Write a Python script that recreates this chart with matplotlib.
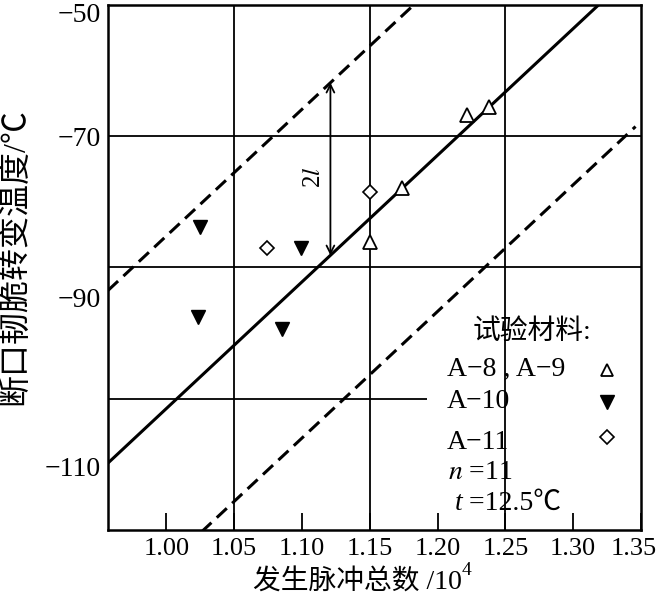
import numpy as np
import matplotlib.pyplot as plt
from matplotlib.transforms import ScaledTranslation

plt.rcParams['font.family'] = ['Liberation Serif', 'Noto Sans CJK SC']
plt.rcParams['mathtext.fontset'] = 'stix'

a89_x = [1.150, 1.174, 1.2215, 1.238]
a89_y = [-86.1, -77.9, -66.8, -65.5]
a10_x = [1.023, 1.0245, 1.085, 1.099]
a10_y = [-97.5, -83.8, -99.4, -87.0]
a11_x = [1.074, 1.150]
a11_y = [-87.0, -78.5]

# regression line y = fit_y0 + fit_slope*(x - 1), scatter band around it
fit_slope = 193.0
fit_y0 = -111.5
band_upper = 26.3
band_lower = -23.8
arrow_x = 1.121

xticks = [1.00, 1.05, 1.10, 1.15, 1.20, 1.25, 1.30, 1.35]
xtick_labels = ['1.00', '1.05', '1.10', '1.15', '1.20', '1.25', '1.30', '1.35']
ytick_pos = [-51.1, -70.1, -94.5, -120.4]
ytick_labels = ['\u221250', '\u221270', '\u221290', '\u2212110']
xgrid = [1.05, 1.15, 1.25]
ygrid = [-70, -90]
ygrid_short = -110

fig = plt.figure(figsize=(6.61, 6.03), dpi=100)
ax = fig.add_axes([0.1634, 0.1211, 0.8063, 0.8706])
ax.set_xlim(0.957, 1.346)
ax.set_ylim(-130, -50)

for xv in xgrid:
    ax.axvline(xv, color='black', lw=1.3, zorder=1)
for yv in ygrid:
    ax.axhline(yv, color='black', lw=1.3, zorder=1)
ax.hlines(ygrid_short, 0.957, 1.192, color='black', lw=1.3, zorder=1)

xs = np.array(ax.get_xlim())
fit = fit_y0 + fit_slope * (xs - 1.0)
ax.plot(xs, fit, color='black', lw=2.2, zorder=2)
ax.plot(xs, fit + band_upper, color='black', lw=2.2, ls=(0, (4.5, 2.4)), zorder=2)
ax.plot(xs, fit + band_lower, color='black', lw=2.2, ls=(0, (4.5, 2.4)), zorder=2)

# 2l arrow
y_c = fit_y0 + fit_slope * (arrow_x - 1.0)
ax.annotate('', xy=(arrow_x, y_c + band_upper), xytext=(arrow_x, y_c),
            arrowprops=dict(arrowstyle='<->', color='black', lw=1.3,
                            shrinkA=0, shrinkB=0, mutation_scale=14))
ax.text(arrow_x - 0.012, y_c + band_upper * 0.45, '2$l$', rotation=90,
        ha='center', va='center', fontsize=18)

ax.plot(a89_x, a89_y, ls='none', marker='^', ms=10, mfc='white', mec='black', mew=1.3, zorder=3)
ax.plot(a10_x, a10_y, ls='none', marker='v', ms=10, mfc='black', mec='black', zorder=3)
ax.plot(a11_x, a11_y, ls='none', marker='D', ms=7.5, mfc='white', mec='black', mew=1.2, zorder=3)

ax.set_xticks(xticks)
ax.set_xticklabels(xtick_labels, fontsize=19)
ax.set_yticks(ytick_pos)
ax.set_yticklabels(ytick_labels, fontsize=20)
ax.tick_params(axis='x', direction='in', length=12, width=1.3, pad=6)
ax.tick_params(axis='y', length=0, pad=5)
for s in ax.spines.values():
    s.set_linewidth(1.8)
# last label sits against the figure edge, nudge it left a little
last = ax.get_xticklabels()[-1]
last.set_transform(last.get_transform() + ScaledTranslation(-5 / 72, 0, fig.dpi_scale_trans))

ax.set_xlabel('发生脉冲总数 /10', fontsize=20, labelpad=8)
ax.xaxis.set_label_coords(0.468, -0.075)
ax.annotate('4', xy=(1.0, 0.62), xycoords=ax.xaxis.label, fontsize=14,
            ha='left', va='bottom')
ax.set_ylabel('断口韧脆转变温度/℃', fontsize=23)
ax.yaxis.set_label_coords(-0.146, 0.52)

# legend block drawn by hand
tr = ax.transAxes
ax.text(0.685, 0.377, '试验材料:', transform=tr, fontsize=20, va='center', ha='left')
ax.text(0.636, 0.305, 'A\u22128 , A\u22129', transform=tr, fontsize=20, va='center')
ax.text(0.636, 0.244, 'A\u221210', transform=tr, fontsize=20, va='center')
ax.text(0.636, 0.166, 'A\u221211', transform=tr, fontsize=20, va='center')
ax.text(0.638, 0.109, '$n$ =11', transform=tr, fontsize=20, va='center')
t_lbl = ax.text(0.650, 0.051, 't', transform=tr, fontsize=20, va='center', style='italic')
ax.annotate(' =12.5℃', xy=(1, 0), xycoords=t_lbl, va='bottom', ha='left', fontsize=20)
ax.plot([0.936], [0.305], transform=tr, marker='^', ms=9, mfc='white', mec='black', mew=1.3)
ax.plot([0.936], [0.244], transform=tr, marker='v', ms=10, mfc='black', mec='black')
ax.plot([0.936], [0.177], transform=tr, marker='D', ms=7.5, mfc='white', mec='black', mew=1.2)

fig.savefig('out.png', dpi=100)
